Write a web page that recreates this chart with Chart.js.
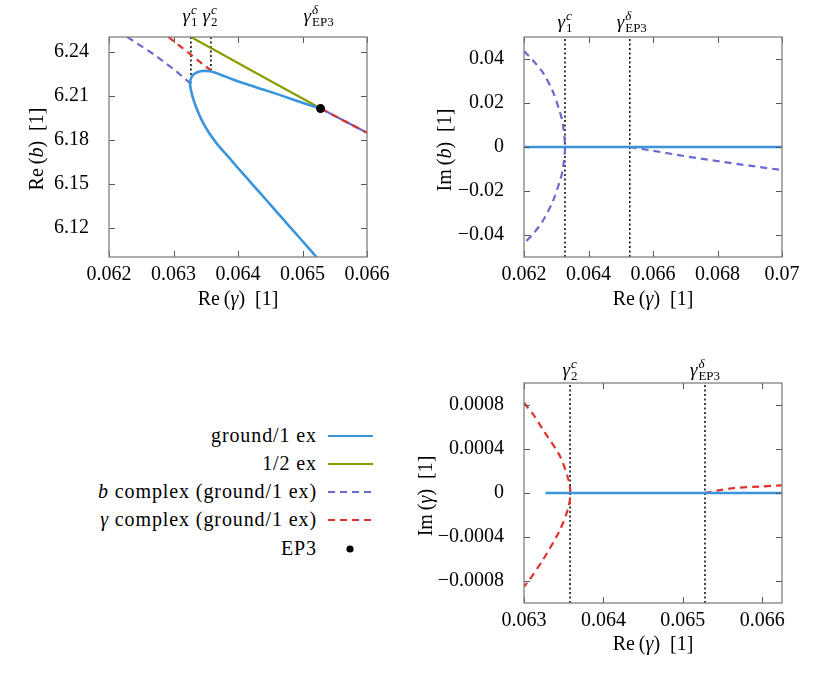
<!DOCTYPE html>
<html><head><meta charset="utf-8">
<script src="https://cdn.jsdelivr.net/npm/chart.js@4.4.1/dist/chart.umd.min.js"></script>
<style>
html,body{margin:0;padding:0;background:#fff}
body{width:830px;height:692px;position:relative;overflow:hidden;font-family:'Liberation Serif','Times New Roman',serif}
canvas{position:absolute}
.lg{position:absolute;right:513px;height:24px;line-height:24px;font-size:20px;letter-spacing:0.9px;white-space:nowrap;color:#000;text-align:right}
.sw{position:absolute;left:327px;width:48px;height:10px}
</style></head><body>
<canvas id="c1" width="400" height="330" style="left:0;top:0"></canvas>
<canvas id="c2" width="430" height="330" style="left:400px;top:0"></canvas>
<canvas id="c3" width="430" height="362" style="left:400px;top:330px"></canvas>
<div id="legend"></div>
<script>
// ---------------- data ----------------
const gamma1c = 0.06327, gamma2c = 0.06358, gammaEP3 = 0.06528;
const ep3ReB = 6.2012;

// panel 1: Re(b) vs Re(gamma)
const p1XTicks = [0.062, 0.063, 0.064, 0.065, 0.066];
const p1XLabels = ['0.062', '0.063', '0.064', '0.065', '0.066'];
const p1YTicks = [6.12, 6.15, 6.18, 6.21, 6.24];
const p1YLabels = ['6.12', '6.15', '6.18', '6.21', '6.24'];
const groundReG = [0.065282, 0.065000, 0.064700, 0.064400, 0.064100, 0.063900, 0.063720, 0.063566, 0.063450, 0.063360,
  0.063300, 0.063268, 0.063258, 0.063265, 0.063297, 0.063349, 0.063437, 0.063540, 0.063669, 0.063824, 0.063979,
  0.064160, 0.064341, 0.064522, 0.064703, 0.064884, 0.065065, 0.065215];
const groundReB = [6.2012, 6.2052, 6.2097, 6.2141, 6.2183, 6.2214, 6.2245, 6.2266, 6.2268, 6.2258,
  6.2240, 6.2215, 6.2185, 6.2150, 6.2091, 6.2023, 6.1933, 6.1854, 6.1775, 6.1696, 6.1617,
  6.1527, 6.1437, 6.1347, 6.1256, 6.1166, 6.1076, 6.1000];
const ex12ReG = [0.063271, 0.064280, 0.065282];
const ex12ReB = [6.2500, 6.2255, 6.2012];
const bCplxLeftG = [0.062284, 0.062687, 0.062997, 0.063258];
const bCplxLeftB = [6.2500, 6.2384, 6.2283, 6.2185];
const bCplxRightG = [0.065282, 0.065600, 0.066000];
const bCplxRightB = [6.2012, 6.1939, 6.1847];
const gCplxLeftG = [0.062920, 0.063250, 0.063580];
const gCplxLeftB = [6.2500, 6.2386, 6.2271];
const gCplxRightG = [0.065282, 0.065600, 0.066000];
const gCplxRightB = [6.2012, 6.1939, 6.1847];

// panel 2: Im(b) vs Re(gamma)
const p2XTicks = [0.062, 0.064, 0.066, 0.068, 0.070];
const p2XLabels = ['0.062', '0.064', '0.066', '0.068', '0.07'];
const p2YTicks = [-0.04, -0.02, 0, 0.02, 0.04];
const p2YLabels = ['\u22120.04', '\u22120.02', '0', '0.02', '0.04'];
const groundImBG = [0.062, 0.070];
const groundImB = [0, 0];
const bCplxImLeftG = [0.0620, 0.0623, 0.0626, 0.0629, 0.0631, 0.0632, 0.06327, 0.0632, 0.0631, 0.0629, 0.0626, 0.0623, 0.0620];
const bCplxImLeftB = [0.0436, 0.0390, 0.0335, 0.0250, 0.0165, 0.0110, 0.0, -0.0105, -0.0160, -0.0245, -0.0332, -0.0392, -0.0438];
const bCplxImRightG = [0.06528, 0.066, 0.067, 0.068, 0.069, 0.070];
const bCplxImRightB = [0, -0.0017, -0.0042, -0.0064, -0.0085, -0.0105];

// panel 3: Im(gamma) vs Re(gamma)
const p3XTicks = [0.063, 0.064, 0.065, 0.066];
const p3XLabels = ['0.063', '0.064', '0.065', '0.066'];
const p3YTicks = [-0.0008, -0.0004, 0, 0.0004, 0.0008];
const p3YLabels = ['\u22120.0008', '\u22120.0004', '0', '0.0004', '0.0008'];
const groundImGG = [0.06327, 0.06625];
const groundImG = [0, 0];
const gCplxImLeftG = [0.0630, 0.06312, 0.06324, 0.063454, 0.06356, 0.063584, 0.06356, 0.063454, 0.06324, 0.063054, 0.0630];
const gCplxImLeftI = [0.00082, 0.00071, 0.000575, 0.000333, 0.00012, 0, -0.00013, -0.000334, -0.000606, -0.000804, -0.00085];
const gCplxImRightG = [0.065274, 0.06543, 0.065641, 0.06600, 0.06625];
const gCplxImRightI = [0, 0.000021, 0.000045, 0.00006, 0.000069];

// ---------------- style ----------------
const FONT = "'Liberation Serif','Times New Roman',serif";
const C_BLUE = '#3a95dc', C_GREEN = '#8a9c00', C_PURPLE = '#6a6acd', C_RED = '#e2302c';
const DASH = [7, 5], DOT = [2, 2.5];

function pts(xs, ys) { return xs.map((x, i) => ({ x: x, y: ys[i] })); }
function line(data, color, dash, width, tension) {
  return { data: data, borderColor: color, backgroundColor: color, borderWidth: width || 2.2,
    borderDash: dash || [], showLine: true, pointRadius: 0, fill: false, tension: tension || 0 };
}
function vline(x, y0, y1) { return line([{ x: x, y: y0 }, { x: x, y: y1 }], '#000', DOT, 1.5); }

function drawRich(ctx, parts, x, y, size) {
  const small = Math.round(size * 0.7);
  const fnt = (it, s) => (it ? 'italic ' : '') + s + 'px ' + FONT;
  let w = 0;
  const widths = parts.map(p => {
    let ww;
    if (p.sup || p.sub) {
      let a = 0, b = 0;
      if (p.sup) { ctx.font = fnt(p.sup.it, small); a = ctx.measureText(p.sup.t).width; }
      if (p.sub) { ctx.font = fnt(p.sub.it, small); b = ctx.measureText(p.sub.t).width; }
      ww = Math.max(a, b) + 1;
    } else { ctx.font = fnt(p.it, size); ww = ctx.measureText(p.t).width; }
    w += ww; return ww;
  });
  let cx = x - w / 2;
  ctx.textAlign = 'left';
  parts.forEach((p, i) => {
    if (p.sup || p.sub) {
      if (p.sup) { ctx.font = fnt(p.sup.it, small); ctx.fillText(p.sup.t, cx + 1, y - size * 0.42); }
      if (p.sub) { ctx.font = fnt(p.sub.it, small); ctx.fillText(p.sub.t, cx + 1, y + size * 0.2); }
    } else { ctx.font = fnt(p.it, size); ctx.fillText(p.t, cx, y); }
    cx += widths[i];
  });
}

const G1c = [{ t: '\u03b3', it: true }, { sup: { t: 'c', it: true }, sub: { t: '1', it: false } }];
const G2c = [{ t: '\u03b3', it: true }, { sup: { t: 'c', it: true }, sub: { t: '2', it: false } }];
const GEP = [{ t: '\u03b3', it: true }, { sup: { t: '\u03b4', it: true }, sub: { t: 'EP3', it: false } }];
function title(pre, v, post) { return [{ t: pre, it: false }, { t: v, it: true }, { t: post, it: false }]; }

function decor(opts) {
  return {
    id: 'decor',
    afterDatasetsDraw(chart) {
      const ctx = chart.ctx, a = chart.chartArea, xs = chart.scales.x, ys = chart.scales.y;
      ctx.save();
      ctx.strokeStyle = '#555'; ctx.lineWidth = 1;
      ctx.beginPath();
      opts.xt.forEach(v => { const p = Math.round(xs.getPixelForValue(v)) + 0.5;
        ctx.moveTo(p, a.bottom); ctx.lineTo(p, a.bottom - 6); ctx.moveTo(p, a.top); ctx.lineTo(p, a.top + 6); });
      opts.yt.forEach(v => { const p = Math.round(ys.getPixelForValue(v)) + 0.5;
        ctx.moveTo(a.left, p); ctx.lineTo(a.left + 6, p); ctx.moveTo(a.right, p); ctx.lineTo(a.right - 6, p); });
      ctx.stroke();
      ctx.strokeStyle = '#808080'; ctx.lineWidth = 1.3;
      ctx.strokeRect(a.left, a.top, a.right - a.left, a.bottom - a.top);
      ctx.restore();
    },
    afterDraw(chart) {
      const ctx = chart.ctx, a = chart.chartArea, xs = chart.scales.x;
      ctx.save();
      ctx.fillStyle = '#000'; ctx.textBaseline = 'alphabetic';
      opts.marks.forEach(m => drawRich(ctx, m.parts, xs.getPixelForValue(m.x) + (m.dx || 0), opts.markY, 19));
      drawRich(ctx, opts.xTitle, (a.left + a.right) / 2, opts.xTitleY, 20);
      ctx.translate(opts.yTitleX, opts.yTitleCY);
      ctx.rotate(-Math.PI / 2);
      drawRich(ctx, opts.yTitle, 0, 6, 20);
      ctx.restore();
    }
  };
}

function axis(min, max, ticks, labels, isX, size, pad) {
  return {
    type: 'linear', min: min, max: max,
    afterBuildTicks: s => { s.ticks = ticks.map(v => ({ value: v })); },
    afterFit: s => { if (isX) s.height = size; else s.width = size; },
    ticks: { callback: (v, i) => labels[i], font: { family: FONT, size: 20 }, color: '#000',
      padding: pad, maxRotation: 0, autoSkip: false },
    grid: { display: false }, border: { display: false }
  };
}

function make(id, datasets, scales, padding, dec) {
  return new Chart(document.getElementById(id), {
    type: 'scatter',
    data: { datasets: datasets },
    options: {
      responsive: false, animation: false, devicePixelRatio: 1,
      layout: { padding: padding },
      plugins: { legend: { display: false }, tooltip: { enabled: false } },
      scales: scales
    },
    plugins: [decor(dec)]
  });
}

// ---- panel 1 ----
make('c1', [
  { data: [{ x: gammaEP3, y: ep3ReB }], pointRadius: 4.5, pointBackgroundColor: '#000', pointBorderWidth: 0, showLine: false },
  line(pts(gCplxRightG, gCplxRightB), C_RED, DASH, 2.2),
  line(pts(groundReG, groundReB), C_BLUE, [], 2.6, 0.3),
  line(pts(ex12ReG, ex12ReB), C_GREEN, [], 2.2),
  line(pts(gCplxLeftG, gCplxLeftB), C_RED, DASH, 2.2),
  line(pts(bCplxLeftG, bCplxLeftB), C_PURPLE, DASH, 2.2),
  line(pts(bCplxRightG, bCplxRightB), C_PURPLE, [], 2.2),
  vline(gamma1c, 6.25, 6.2185),
  vline(gamma2c, 6.25, 6.2271)
], {
  x: axis(0.062, 0.066, p1XTicks, p1XLabels, true, 73, -2),
  y: axis(6.10, 6.25, p1YTicks, p1YLabels, false, 109, 12)
}, { top: 37, right: 33, left: 0, bottom: 0 }, {
  xt: p1XTicks, yt: p1YTicks,
  marks: [{ x: gamma1c, parts: G1c, dx: -1 }, { x: gamma2c, parts: G2c, dx: -1 }, { x: gammaEP3, parts: GEP, dx: -2 }],
  markY: 22, xTitle: title('Re\u2009(', '\u03b3', ')  [1]'), xTitleY: 305,
  yTitle: title('Re\u2009(', 'b', ')  [1]'), yTitleX: 37, yTitleCY: 149
});

// ---- panel 2 ----
make('c2', [
  line(pts(groundImBG, groundImB), C_BLUE, [], 2.4),
  line(pts(bCplxImLeftG, bCplxImLeftB), C_PURPLE, DASH, 2.2, 0.3),
  line(pts(bCplxImRightG, bCplxImRightB), C_PURPLE, DASH, 2.2),
  vline(gamma1c, -0.05, 0.05),
  vline(gammaEP3, -0.05, 0.05)
], {
  x: axis(0.062, 0.070, p2XTicks, p2XLabels, true, 73, -2),
  y: axis(-0.05, 0.05, p2YTicks, p2YLabels, false, 124, 12)
}, { top: 37, right: 48, left: 0, bottom: 0 }, {
  xt: p2XTicks, yt: p2YTicks,
  marks: [{ x: gamma1c, parts: G1c }, { x: gammaEP3, parts: GEP, dx: 2 }],
  markY: 28, xTitle: title('Re\u2009(', '\u03b3', ')  [1]'), xTitleY: 305,
  yTitle: title('Im\u2009(', 'b', ')  [1]'), yTitleX: 45, yTitleCY: 150
});

// ---- panel 3 ----
make('c3', [
  line(pts(groundImGG, groundImG), C_BLUE, [], 2.4),
  line(pts(gCplxImLeftG, gCplxImLeftI), C_RED, DASH, 2.2, 0.3),
  line(pts(gCplxImRightG, gCplxImRightI), C_RED, DASH, 2.2, 0.2),
  vline(gamma2c, -0.001, 0.001),
  vline(gammaEP3, -0.001, 0.001)
], {
  x: axis(0.063, 0.06625, p3XTicks, p3XLabels, true, 89, -2),
  y: axis(-0.001, 0.001, p3YTicks, p3YLabels, false, 124, 12)
}, { top: 53, right: 48, left: 0, bottom: 0 }, {
  xt: p3XTicks, yt: p3YTicks,
  marks: [{ x: gamma2c, parts: G2c }, { x: gammaEP3, parts: GEP }],
  markY: 46, xTitle: title('Re\u2009(', '\u03b3', ')  [1]'), xTitleY: 320,
  yTitle: title('Im\u2009(', '\u03b3', ')  [1]'), yTitleX: 26, yTitleCY: 166
});

// ---- legend ----
const legendLabels = ['ground/1 ex', '1/2 ex', '<i>b</i> complex (ground/1 ex)', '<i>\u03b3</i> complex (ground/1 ex)', 'EP3'];
const legendColors = [C_BLUE, C_GREEN, C_PURPLE, C_RED, '#000'];
const legendKinds = ['solid', 'solid', 'dash', 'dash', 'dot'];
const legendRowY = [436, 464, 492, 520, 549];
const lg = document.getElementById('legend');
legendLabels.forEach((lab, i) => {
  const d = document.createElement('div');
  d.className = 'lg'; d.style.top = (legendRowY[i] - 13) + 'px'; d.innerHTML = lab;
  lg.appendChild(d);
  const s = document.createElementNS('http://www.w3.org/2000/svg', 'svg');
  s.setAttribute('class', 'sw'); s.style.top = (legendRowY[i] - 5) + 'px';
  s.setAttribute('width', '48'); s.setAttribute('height', '10');
  if (legendKinds[i] === 'dot') {
    s.innerHTML = '<circle cx="23" cy="5" r="3.6" fill="#000"/>';
  } else {
    s.innerHTML = '<line x1="1" y1="5" x2="46" y2="5" stroke="' + legendColors[i] + '" stroke-width="2"' +
      (legendKinds[i] === 'dash' ? ' stroke-dasharray="7 5"' : '') + '/>';
  }
  lg.appendChild(s);
});
</script>
</body></html>
